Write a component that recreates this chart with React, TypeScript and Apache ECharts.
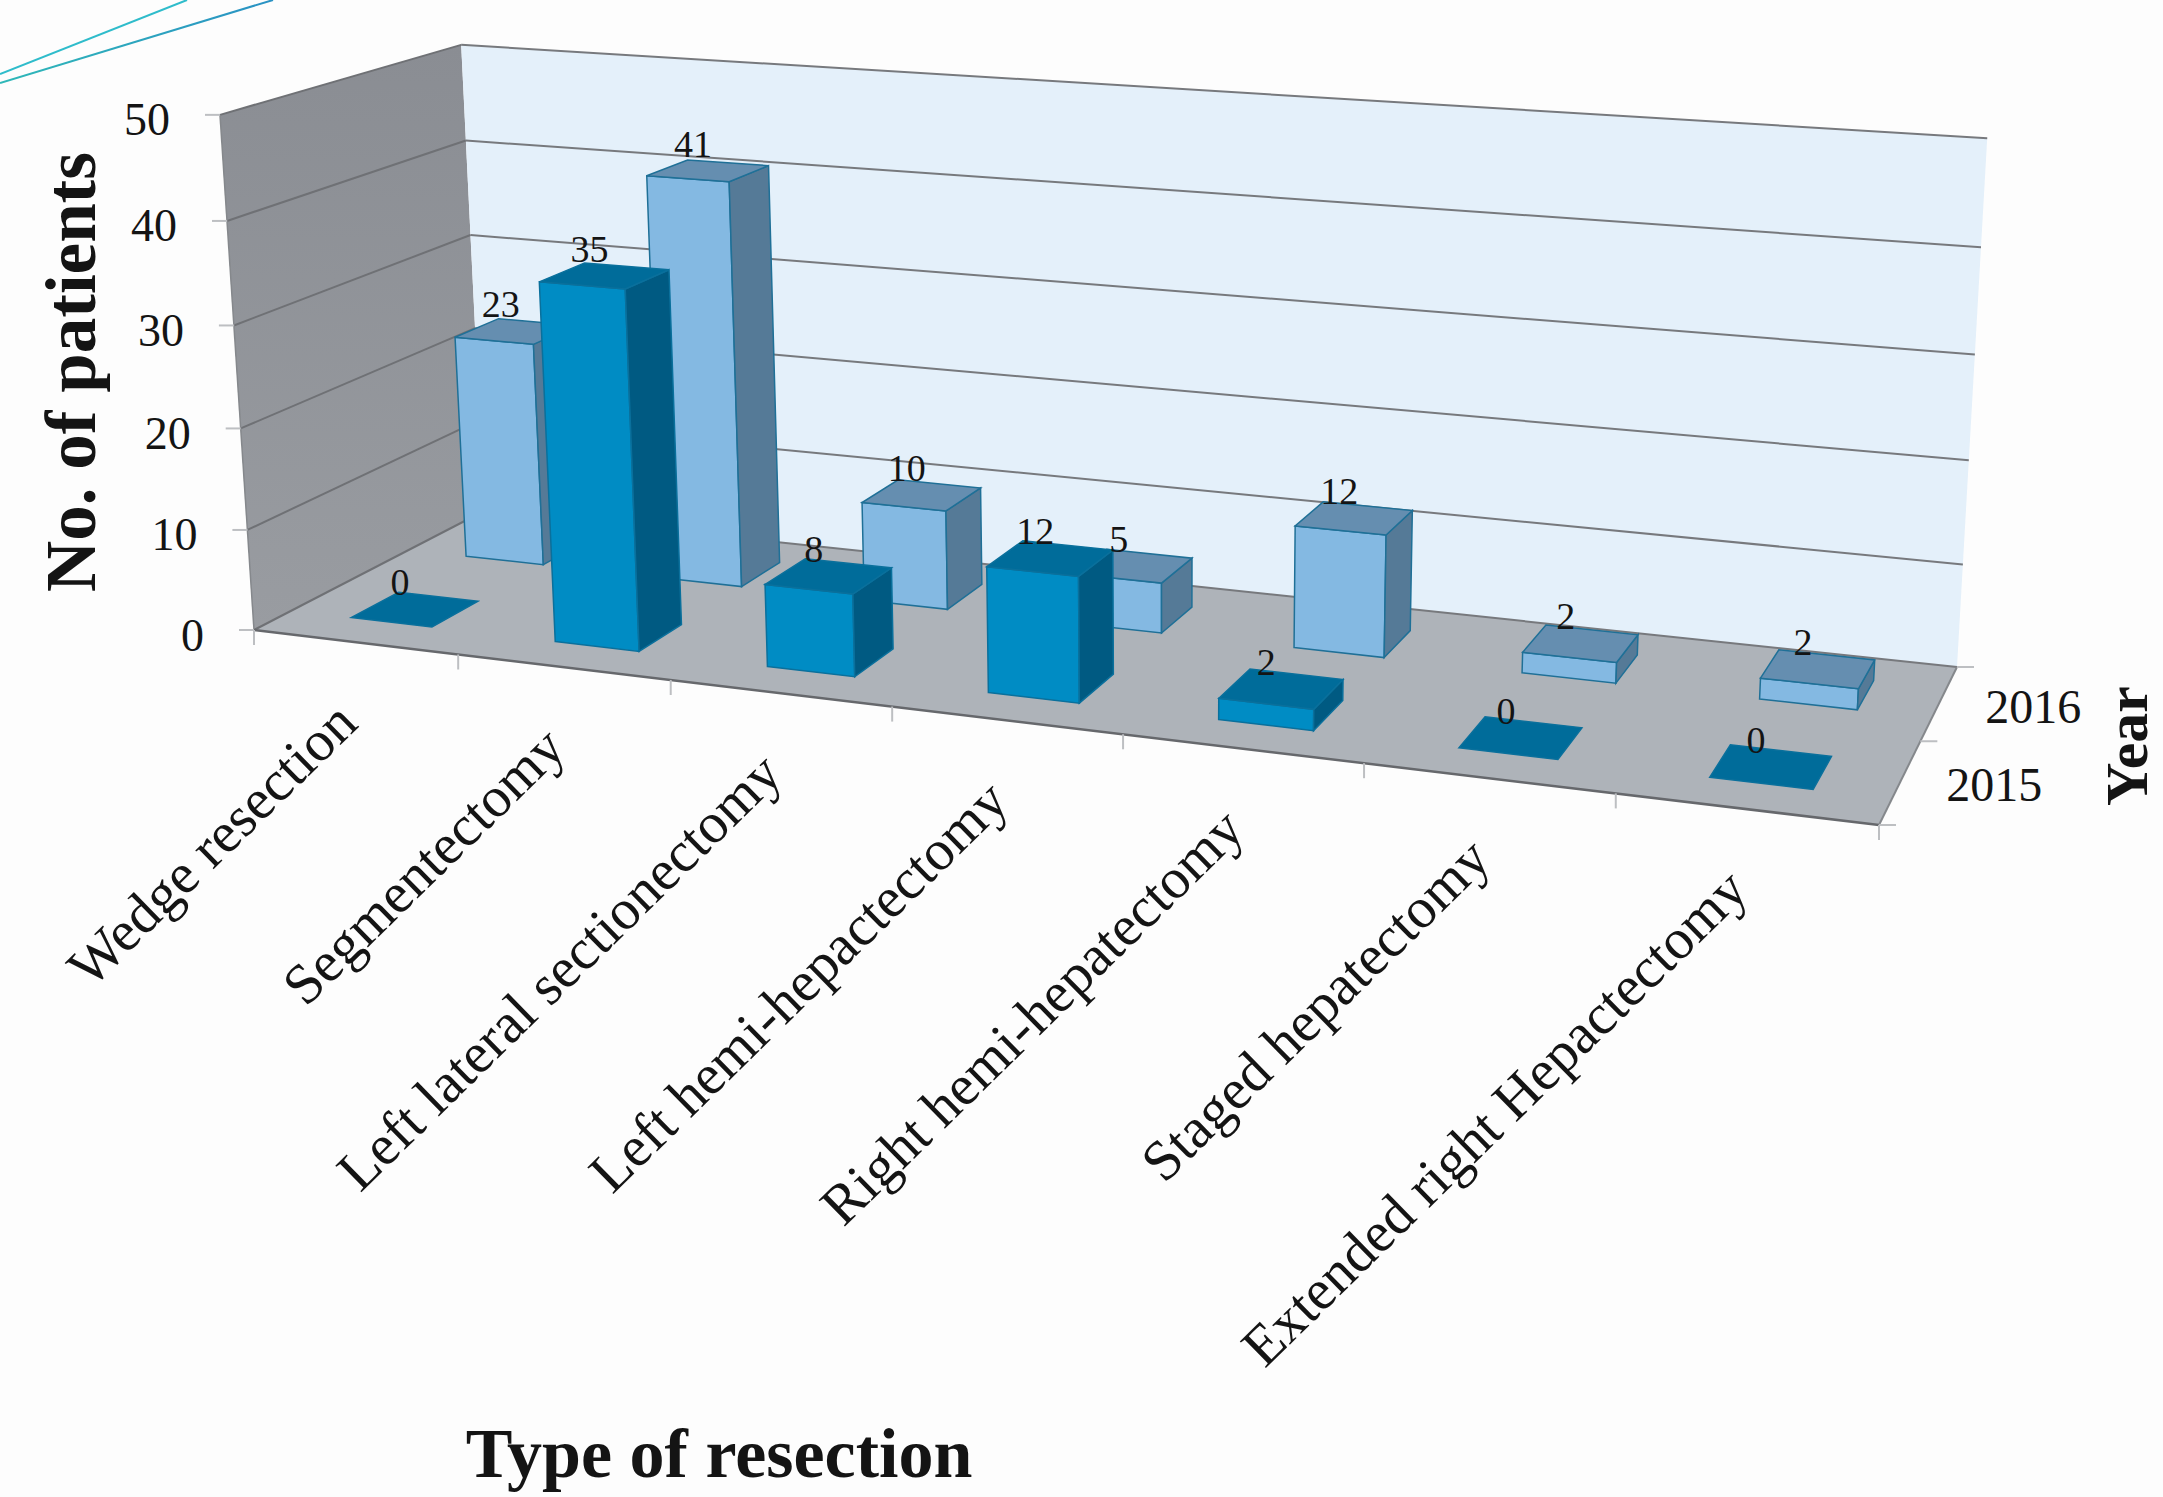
import React, { useEffect, useRef } from "react";
import * as echarts from "echarts";

// Resection counts per year
const categories = [
  "Wedge resection",
  "Segmentectomy",
  "Left lateral sectionectomy",
  "Left hemi-hepactectomy",
  "Right hemi-hepatectomy",
  "Staged hepatectomy",
  "Extended right Hepactectomy",
];
const years = ["2015", "2016"];
const values2015 = [0, 35, 8, 12, 2, 0, 0];
const values2016 = [23, 41, 10, 5, 12, 2, 2];
const valueTicks = [0, 10, 20, 30, 40, 50];

const WIDTH = 2163;
const HEIGHT = 1497;
const SERIF = '"Liberation Serif", serif';

// The hidden grid supplies the scales; its output is normalised and fed to the box projection.
const GRID = { left: 0, top: 0, width: 1000, height: 1000 };

// Screen positions of the chart box corners: [u, depth, x, y]
const floorQuad = [
  [254, 630],
  [1879, 825],
  [1957, 667],
  [484, 511],
];
const topCorners = [
  [0, 0, 225, 114.5],
  [0, 1, 456, 45],
  [1, 1, 1988, 138.5],
];

const [x0, y0] = floorQuad[0];
const [x1, y1] = floorQuad[1];
const [x2, y2] = floorQuad[2];
const [x3, y3] = floorQuad[3];
const dx1 = x1 - x2, dx2 = x3 - x2, sx = x0 - x1 + x2 - x3;
const dy1 = y1 - y2, dy2 = y3 - y2, sy = y0 - y1 + y2 - y3;
const den = dx1 * dy2 - dx2 * dy1;
const hg = (sx * dy2 - dx2 * sy) / den;
const hh = (dx1 * sy - sx * dy1) / den;
const ha = x1 - x0 + hg * x1, hb = x3 - x0 + hh * x3;
const hd = y1 - y0 + hg * y1, he = y3 - y0 + hh * y3;

function floorHomog(u: number, d: number) {
  return [ha * u + hb * d + x0, hd * u + he * d + y0, hg * u + hh * d + 1];
}

// Vertical direction of the box in homogeneous form, least-squares fit to the top corners
function solveVertical() {
  const rows: number[][] = [];
  for (const [u, d, x, y] of topCorners) {
    const [X, Y, W] = floorHomog(u, d);
    rows.push([1, 0, -x, x * W - X]);
    rows.push([0, 1, -y, y * W - Y]);
  }
  const m = [0, 1, 2].map((r) =>
    [0, 1, 2, 3].map((c) => rows.reduce((s, row) => s + row[r] * row[c], 0))
  );
  for (let i = 0; i < 3; i++) {
    let p = i;
    for (let r = i + 1; r < 3; r++) if (Math.abs(m[r][i]) > Math.abs(m[p][i])) p = r;
    [m[i], m[p]] = [m[p], m[i]];
    for (let r = 0; r < 3; r++) {
      if (r === i) continue;
      const f = m[r][i] / m[i][i];
      for (let c = i; c < 4; c++) m[r][c] -= f * m[i][c];
    }
  }
  return [m[0][3] / m[0][0], m[1][3] / m[1][1], m[2][3] / m[2][2]];
}
const vertical = solveVertical();

function project(u: number, d: number, h: number): number[] {
  const [X, Y, W] = floorHomog(u, d);
  const w = W + h * vertical[2];
  return [(X + h * vertical[0]) / w, (Y + h * vertical[1]) / w];
}

const normU = (px: number) => (px - GRID.left) / GRID.width;
const normH = (py: number) => (GRID.top + GRID.height - py) / GRID.height;

const BAR_WIDTH = 0.4; // share of a category
const BAR_DEPTH = 0.4; // share of a year row

const poly = (points: number[][], fill: any, stroke?: string, lineWidth = 1.5) => ({
  type: "polygon",
  shape: { points },
  style: { fill, stroke: stroke ?? "none", lineWidth },
  silent: true,
});
const seg = (a: number[], b: number[], stroke: string, lineWidth: number) => ({
  type: "line",
  shape: { x1: a[0], y1: a[1], x2: b[0], y2: b[1] },
  style: { stroke, lineWidth },
  silent: true,
});
const label = (
  text: string,
  x: number,
  y: number,
  size: number,
  opts: { align?: string; rotation?: number; bold?: boolean } = {}
) => ({
  type: "text",
  x,
  y,
  rotation: opts.rotation ?? 0,
  style: {
    text,
    x: 0,
    y: 0,
    fill: "#141414",
    font: `${opts.bold ? "bold " : ""}${size}px ${SERIF}`,
    align: opts.align ?? "center",
    verticalAlign: "middle",
  },
});

function renderBox(_params: any, api: any) {
  const children: any[] = [];
  const tickH = valueTicks.map((t) => normH(api.coord([0, t])[1]));
  const bandU = api.size([1, 0])[0] / GRID.width;

  // Floor and walls
  children.push(
    poly([project(0, 0, 0), project(1, 0, 0), project(1, 1, 0), project(0, 1, 0)], "#aeb3b9"),
    poly(
      [project(0, 0, 0), project(0, 1, 0), project(0, 1, 1), project(0, 0, 1)],
      new echarts.graphic.LinearGradient(0, 0, 0, 1, [
        { offset: 0, color: "#8a8d93" },
        { offset: 1, color: "#999ca1" },
      ])
    ),
    poly([project(0, 1, 0), project(1, 1, 0), project(1, 1, 1), project(0, 1, 1)], "#e4f0fa")
  );

  // Gridlines run along the side wall and the back wall
  tickH.forEach((h) => {
    children.push(
      seg(project(0, 0, h), project(0, 1, h), "#6f7175", 2),
      seg(project(0, 1, h), project(1, 1, h), "#77797d", 2)
    );
  });
  children.push(
    seg(project(0, 0, 0), project(0, 0, 1), "#85888c", 1.5),
    seg(project(0, 0, 0), project(1, 0, 0), "#66686c", 2.5),
    seg(project(1, 0, 0), project(1, 1, 0), "#85888c", 2)
  );

  // Value axis ticks and labels
  valueTicks.forEach((t, i) => {
    const p = project(0, 0, tickH[i]);
    children.push(seg(p, [p[0] - 15, p[1]], "#bdbfc2", 2));
    children.push(label(String(t), p[0] - 50, p[1] + 5, 46, { align: "right" }));
  });

  // Category axis ticks and slanted labels
  for (let i = 0; i <= categories.length; i++) {
    const p = project(i * bandU, 0, 0);
    children.push(seg(p, [p[0], p[1] + 15], "#bdbfc2", 2));
  }
  categories.forEach((name, i) => {
    const p = project(normU(api.coord([i, 0])[0]), 0, 0);
    children.push(
      label(name, p[0] - 9, p[1] + 70, 57, { align: "right", rotation: (44.4 * Math.PI) / 180 })
    );
  });

  // Depth axis ticks and year labels
  [0, 0.5, 1].forEach((d) => {
    const p = project(1, d, 0);
    children.push(seg(p, [p[0] + 17, p[1]], "#bdbfc2", 2));
  });
  years.forEach((y, i) => {
    const p = project(1, (i + 0.5) / years.length, 0);
    children.push(label(y, p[0] + 46, p[1] + 3, 48, { align: "left" }));
  });

  // Axis titles
  children.push(
    label("No. of patients", 71, 372, 71, { bold: true, rotation: Math.PI / 2 }),
    label("Type of resection", 719, 1453, 70, { bold: true }),
    label("Year", 2127, 746, 60, { bold: true, rotation: Math.PI / 2 })
  );

  return { type: "group", children };
}

const rowDepth = (row: number) => (row + 0.5) / years.length;

function barRenderer(row: number, colors: { front: string; side: string; top: string; edge: string }) {
  return (_params: any, api: any) => {
    const [cx, cy] = api.coord([api.value(0), api.value(1)]);
    const half = (api.size([1, 0])[0] / GRID.width) * (BAR_WIDTH / 2);
    const u = normU(cx);
    const h = normH(cy);
    const depthHalf = BAR_DEPTH / years.length / 2;
    const d = rowDepth(row);
    const uL = u - half, uR = u + half;
    const dF = d - depthHalf, dB = d + depthHalf;
    const children: any[] = [];
    if (h > 0) {
      children.push(
        poly(
          [project(uL, dF, 0), project(uR, dF, 0), project(uR, dF, h), project(uL, dF, h)],
          colors.front,
          colors.edge
        ),
        poly(
          [project(uR, dF, 0), project(uR, dB, 0), project(uR, dB, h), project(uR, dF, h)],
          colors.side,
          colors.edge
        )
      );
    }
    children.push(
      poly(
        [project(uL, dF, h), project(uR, dF, h), project(uR, dB, h), project(uL, dB, h)],
        colors.top,
        colors.edge
      )
    );
    return { type: "group", children };
  };
}

function valueLabelRenderer(row: number) {
  return (_params: any, api: any) => {
    const [cx, cy] = api.coord([api.value(0), api.value(1)]);
    const p = project(normU(cx), rowDepth(row), normH(cy));
    return label(String(api.value(1)), p[0] - 15, p[1] - 27, 38);
  };
}

const toPoints = (vals: number[]) => vals.map((v, i) => [i, v]);

const color2015 = { front: "#008cc4", side: "#005a82", top: "#006c9a", edge: "#0a709c" };
const color2016 = { front: "#84b9e2", side: "#557a97", top: "#658eb0", edge: "#1f7097" };

function customSeries(renderItem: any, data: any[], z: number) {
  return { type: "custom", renderItem, data, z, clip: false, silent: true, coordinateSystem: "cartesian2d" };
}

export default function App() {
  const ref = useRef<HTMLDivElement>(null);

  useEffect(() => {
    const chart = echarts.init(ref.current!, undefined, { renderer: "svg" });
    chart.setOption({
      animation: false,
      backgroundColor: "#fdfdfd",
      grid: GRID,
      xAxis: { type: "category", data: categories, show: false },
      yAxis: { type: "value", min: 0, max: 50, interval: 10, show: false },
      graphic: [
        {
          type: "line",
          shape: { x1: 0, y1: 74, x2: 187, y2: 0 },
          style: { stroke: "#2fbccb", lineWidth: 2 },
        },
        {
          type: "line",
          shape: { x1: 0, y1: 83, x2: 273, y2: 0 },
          style: {
            stroke: new echarts.graphic.LinearGradient(0, 0, 1, 0, [
              { offset: 0, color: "#2fb8b8" },
              { offset: 1, color: "#2a92c4" },
            ]),
            lineWidth: 2,
          },
        },
      ],
      series: [
        customSeries(renderBox, [[0, 0]], 1),
        customSeries(barRenderer(1, color2016), toPoints(values2016), 2),
        customSeries(barRenderer(0, color2015), toPoints(values2015), 3),
        customSeries(valueLabelRenderer(1), toPoints(values2016), 4),
        customSeries(valueLabelRenderer(0), toPoints(values2015), 4),
      ],
    });
    return () => chart.dispose();
  }, []);

  return (
    <div
      ref={ref}
      style={{ position: "fixed", left: 0, top: 0, width: WIDTH, height: HEIGHT }}
    />
  );
}
